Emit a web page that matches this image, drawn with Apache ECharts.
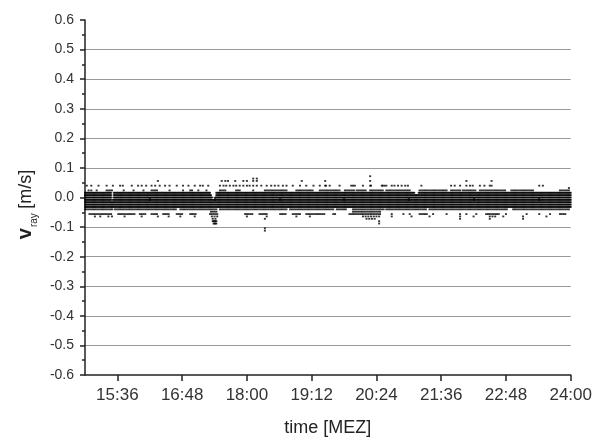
<!DOCTYPE html>
<html><head><meta charset="utf-8">
<script src="https://cdn.jsdelivr.net/npm/echarts@6/dist/echarts.min.js"></script>
<style>html,body{margin:0;padding:0;background:#fff}#c{width:595px;height:442px}</style>
</head><body><div id="c"></div>
<script>
// time in minutes since midnight (15:00 = 900, 24:00 = 1440)
const xMajor = [936, 1008, 1080, 1152, 1224, 1296, 1368, 1440];
const xMajorLabels = ['15:36', '16:48', '18:00', '19:12', '20:24', '21:36', '22:48', '24:00'];
const xMinor = [972, 1044, 1116, 1188, 1260, 1332, 1404];

// quantised v_ray levels with time runs [start, end] in minutes where samples exist
const denseLevels = [0.016, 0.008, 0.0, -0.008, -0.016, -0.024, -0.032];
const denseRuns = [
  [[900, 929], [932, 1039], [1046, 1266], [1271, 1440]],
  [[900, 929], [932, 1040], [1046, 1440]],
  [[900, 929], [932, 1041], [1045, 1440]],
  [[900, 929], [931, 1440]],
  [[900, 1440]],
  [[900, 1440]],
  [[900, 1440]]
];

const rowP024 = [[904,904],[907,907],[913,913],[924,930],[943,943],[954,954],[965,965],[974,981],[994,994],[1009,1009],[1017,1020],[1026,1026],[1035,1035],[1050,1057],[1068,1072],[1087,1087],[1100,1124],[1135,1154],[1161,1183],[1189,1200],[1202,1213],[1217,1231],[1235,1261],[1272,1302],[1307,1317],[1320,1335],[1339,1368],[1374,1398],[1428,1439]];
const rowM040 = [[900,931],[933,1002],[1006,1039],[1040,1046],[1050,1124],[1128,1176],[1180,1191],[1198,1232],[1235,1280],[1283,1369],[1376,1439]];
const rowM048 = [[1040,1046],[1198,1228]];
const rowM056 = [[905,929],[937,955],[961,968],[974,981],[987,994],[1002,1009],[1017,1024],[1039,1048],[1078,1087],[1094,1102],[1117,1124],[1131,1139],[1146,1166],[1176,1178],[1194,1228],[1241,1241],[1254,1254],[1261,1261],[1272,1280],[1287,1287],[1302,1302],[1317,1317],[1324,1324],[1335,1335],[1346,1361],[1368,1368],[1391,1391],[1405,1405],[1417,1417],[1428,1435]];
const rowM064 = [[911,911],[917,917],[926,926],[930,930],[944,944],[963,963],[981,981],[993,993],[1006,1006],[1022,1022],[1041,1048],[1080,1080],[1102,1102],[1135,1135],[1150,1150],[1209,1228],[1241,1241],[1263,1263],[1283,1283],[1317,1317],[1332,1332],[1350,1357],[1365,1365],[1387,1387],[1413,1413]];
const rowM072 = [[1042,1046],[1100,1100],[1213,1224],[1317,1317],[1350,1350],[1387,1387]];
const rowM080 = [[1042,1046],[1227,1227]];
const rowM088 = [[1043,1046],[1227,1227]];
const sparseLevels = [0.024, -0.040, -0.048, -0.056, -0.064, -0.072, -0.080, -0.088];
const sparseRuns = [rowP024, rowM040, rowM048, rowM056, rowM064, rowM072, rowM080, rowM088];
// sampling interval (minutes) of the stored runs for each sparse row
const sparseSteps = [2, 2, 2, 2, 3, 3, 1, 1];

// isolated points: times (minutes) per level
const timesP032 = [1438];
const timesP040 = [902,907,915,924,931,939,942,952,959,963,968,974,978,983,989,994,1002,1009,1015,1022,1028,1031,1037,1050,1054,1057,1061,1065,1068,1072,1076,1080,1083,1087,1091,1096,1102,1107,1111,1115,1120,1124,1131,1139,1146,1154,1161,1168,1167,1172,1183,1196,1198,1200,1209,1217,1218,1230,1231,1233,1235,1241,1244,1248,1252,1256,1259,1274,1307,1311,1317,1324,1328,1331,1339,1344,1350,1352,1405,1409];
const timesP056 = [981,1052,1056,1059,1067,1076,1080,1087,1091,1141,1167,1217,1324,1352];
const timesP064 = [1087,1091];
const timesP072 = [1217];
const timesM104 = [1100];
const timesM112 = [1100];
const pointLevels = [0.032, 0.040, 0.056, 0.064, 0.072, -0.104, -0.112];
const pointTimes = [timesP032, timesP040, timesP056, timesP064, timesP072, timesM104, timesM112];

function decodeRuns(runs, level, step, out) {
  runs.forEach(function (r) {
    for (let t = r[0]; t <= r[1]; t += step) out.push([t, level]);
  });
}
const pts = [];
denseLevels.forEach(function (lv, i) { decodeRuns(denseRuns[i], lv, 1, pts); });
sparseLevels.forEach(function (lv, i) { decodeRuns(sparseRuns[i], lv, sparseSteps[i], pts); });
pointLevels.forEach(function (lv, i) { pointTimes[i].forEach(function (t) { pts.push([t, lv]); }); });

const FONT = "'Liberation Sans', Arial, sans-serif";
const chart = echarts.init(document.getElementById('c'), null, {renderer: 'canvas'});
chart.setOption({
  animation: false,
  backgroundColor: '#fff',
  grid: {left: 85, right: 24, top: 20, bottom: 61, containLabel: false},
  xAxis: [{
    type: 'value', min: 900, max: 1440, position: 'bottom',
    axisLine: {show: true, onZero: false, lineStyle: {color: '#222', width: 1.5}},
    axisTick: {show: true, inside: false, length: 6, customValues: xMajor, lineStyle: {color: '#222', width: 1.5}},
    axisLabel: {
      show: true, customValues: xMajor, margin: 12, fontSize: 17, color: '#333', fontFamily: FONT,
      formatter: function (v) { const k = xMajor.indexOf(v); return k >= 0 ? xMajorLabels[k] : ''; }
    },
    splitLine: {show: false},
    name: 'time [MEZ]', nameLocation: 'middle', nameGap: 44,
    nameTextStyle: {fontSize: 18, color: '#222', fontFamily: FONT}
  }, {
    type: 'value', min: 900, max: 1440, position: 'bottom', gridIndex: 0,
    axisLine: {show: false},
    axisTick: {show: true, inside: false, length: 3.5, customValues: xMinor, lineStyle: {color: '#222', width: 1.5}},
    axisLabel: {show: false},
    splitLine: {show: false}
  }],
  yAxis: {
    type: 'value', min: -0.6, max: 0.6, interval: 0.1,
    axisLine: {show: true, onZero: false, lineStyle: {color: '#222', width: 1.5}},
    axisTick: {show: true, inside: false, length: 5, lineStyle: {color: '#222', width: 1.5}},
    minorTick: {show: true, splitNumber: 2, length: 3, lineStyle: {color: '#222', width: 1.5}},
    axisLabel: {
      margin: 11, fontSize: 14, color: '#333', fontFamily: FONT,
      formatter: function (v) { const s = (Math.abs(v) < 1e-9 ? 0 : v).toFixed(1); return s; }
    },
    splitLine: {show: true, showMinLine: false, showMaxLine: false, lineStyle: {color: '#999', width: 1}},
    name: '{v|v}{s|ray} {u|[m/s]}', nameLocation: 'middle', nameRotate: 90, nameGap: 46,
    nameTextStyle: {
      fontFamily: FONT, color: '#222', padding: [0, 14, 0, 0],
      rich: {
        v: {fontSize: 20, fontWeight: 'bold', fontFamily: FONT, color: '#222', lineHeight: 26, verticalAlign: 'middle'},
        s: {fontSize: 10, fontFamily: FONT, color: '#222', lineHeight: 26, verticalAlign: 'bottom', padding: [0, 1, 0, 1]},
        u: {fontSize: 18, fontFamily: FONT, color: '#222', lineHeight: 26, verticalAlign: 'middle'}
      }
    }
  },
  series: [{
    type: 'scatter', xAxisIndex: 0, yAxisIndex: 0,
    symbol: 'rect', symbolSize: [2, 1.8],
    itemStyle: {color: '#000'},
    data: pts, large: false, silent: true
  }]
});
</script>
</body></html>
